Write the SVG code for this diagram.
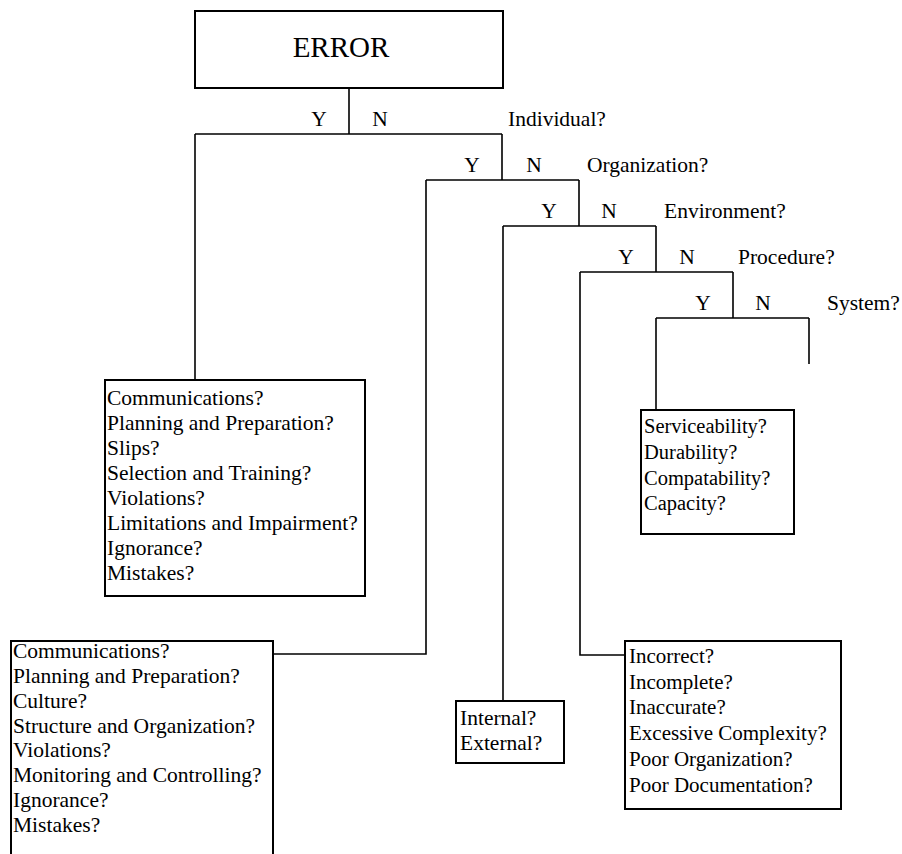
<svg xmlns="http://www.w3.org/2000/svg" width="902" height="854" viewBox="0 0 902 854">
  <style>
    .box { fill: #ffffff; stroke: #000000; stroke-width: 2; }
    .wire { fill: none; stroke: #000000; stroke-width: 1.6; }
    text { font-family: "Liberation Serif", "Times New Roman", serif; font-size: 21.5px; fill: #000000; }
    .title { font-size: 29px; }
    .yn { text-anchor: middle; }
    .small { font-size: 20.5px; }
    .mid { font-size: 21px; }
  </style>
  <rect width="902" height="854" fill="#ffffff"/>

  <!-- decision tree branches -->
  <g id="connectors">
    <path class="wire" d="M349,88 V134 M195,134 H502"/>
    <path class="wire" d="M502,134 V180 M426,180 H579"/>
    <path class="wire" d="M579,180 V226 M503,226 H656"/>
    <path class="wire" d="M656,226 V272 M580,272 H733"/>
    <path class="wire" d="M733,272 V318 M656,318 H809"/>
    <path class="wire" d="M195,134 V380"/>
    <path class="wire" d="M426,180 V654 H273"/>
    <path class="wire" d="M503,226 V701"/>
    <path class="wire" d="M580,272 V655 H625"/>
    <path class="wire" d="M656,318 V410"/>
    <path class="wire" d="M809,318 V364"/>
  </g>

  <!-- branch labels -->
  <g id="labels">
    <text class="yn" x="319" y="126">Y</text>
    <text class="yn" x="380" y="126">N</text>
    <text x="508" y="126">Individual?</text>
    <text class="yn" x="472" y="172">Y</text>
    <text class="yn" x="534" y="172">N</text>
    <text x="587" y="172">Organization?</text>
    <text class="yn" x="549" y="218">Y</text>
    <text class="yn" x="609" y="218">N</text>
    <text x="664" y="218">Environment?</text>
    <text class="yn" x="626" y="264">Y</text>
    <text class="yn" x="687" y="264">N</text>
    <text x="738" y="264">Procedure?</text>
    <text class="yn" x="703" y="310">Y</text>
    <text class="yn" x="763" y="310">N</text>
    <text x="827" y="310">System?</text>
  </g>

  <g id="error">
    <rect class="box" x="195" y="11" width="308" height="77"/>
    <text class="title" x="341" y="57" text-anchor="middle">ERROR</text>
  </g>

  <g id="individual">
    <rect class="box" x="105" y="380" width="260" height="216"/>
    <text x="107" y="405">Communications?</text>
    <text x="107" y="430">Planning and Preparation?</text>
    <text x="107" y="455">Slips?</text>
    <text x="107" y="480">Selection and Training?</text>
    <text x="107" y="505">Violations?</text>
    <text x="107" y="530">Limitations and Impairment?</text>
    <text x="107" y="555">Ignorance?</text>
    <text x="107" y="580">Mistakes?</text>
  </g>

  <g id="organization">
    <path class="box" d="M11,860 V641 H273 V860"/>
    <text x="13" y="658">Communications?</text>
    <text x="13" y="683">Planning and Preparation?</text>
    <text x="13" y="708">Culture?</text>
    <text x="13" y="733">Structure and Organization?</text>
    <text x="13" y="757">Violations?</text>
    <text x="13" y="782">Monitoring and Controlling?</text>
    <text x="13" y="807">Ignorance?</text>
    <text x="13" y="832">Mistakes?</text>
  </g>

  <g id="environment">
    <rect class="box" x="456" y="701" width="108" height="62"/>
    <text x="460" y="725">Internal?</text>
    <text x="460" y="750">External?</text>
  </g>

  <g id="procedure">
    <rect class="box" x="625" y="641" width="216" height="168"/>
    <text class="mid" x="629" y="663">Incorrect?</text>
    <text class="mid" x="629" y="689">Incomplete?</text>
    <text class="mid" x="629" y="714">Inaccurate?</text>
    <text class="mid" x="629" y="740">Excessive Complexity?</text>
    <text class="mid" x="629" y="766">Poor Organization?</text>
    <text class="mid" x="629" y="792">Poor Documentation?</text>
  </g>

  <g id="system">
    <rect class="box" x="641" y="410" width="153" height="124"/>
    <text class="small" x="644" y="433">Serviceability?</text>
    <text class="small" x="644" y="459">Durability?</text>
    <text class="small" x="644" y="485">Compatability?</text>
    <text class="small" x="644" y="510">Capacity?</text>
  </g>
</svg>
